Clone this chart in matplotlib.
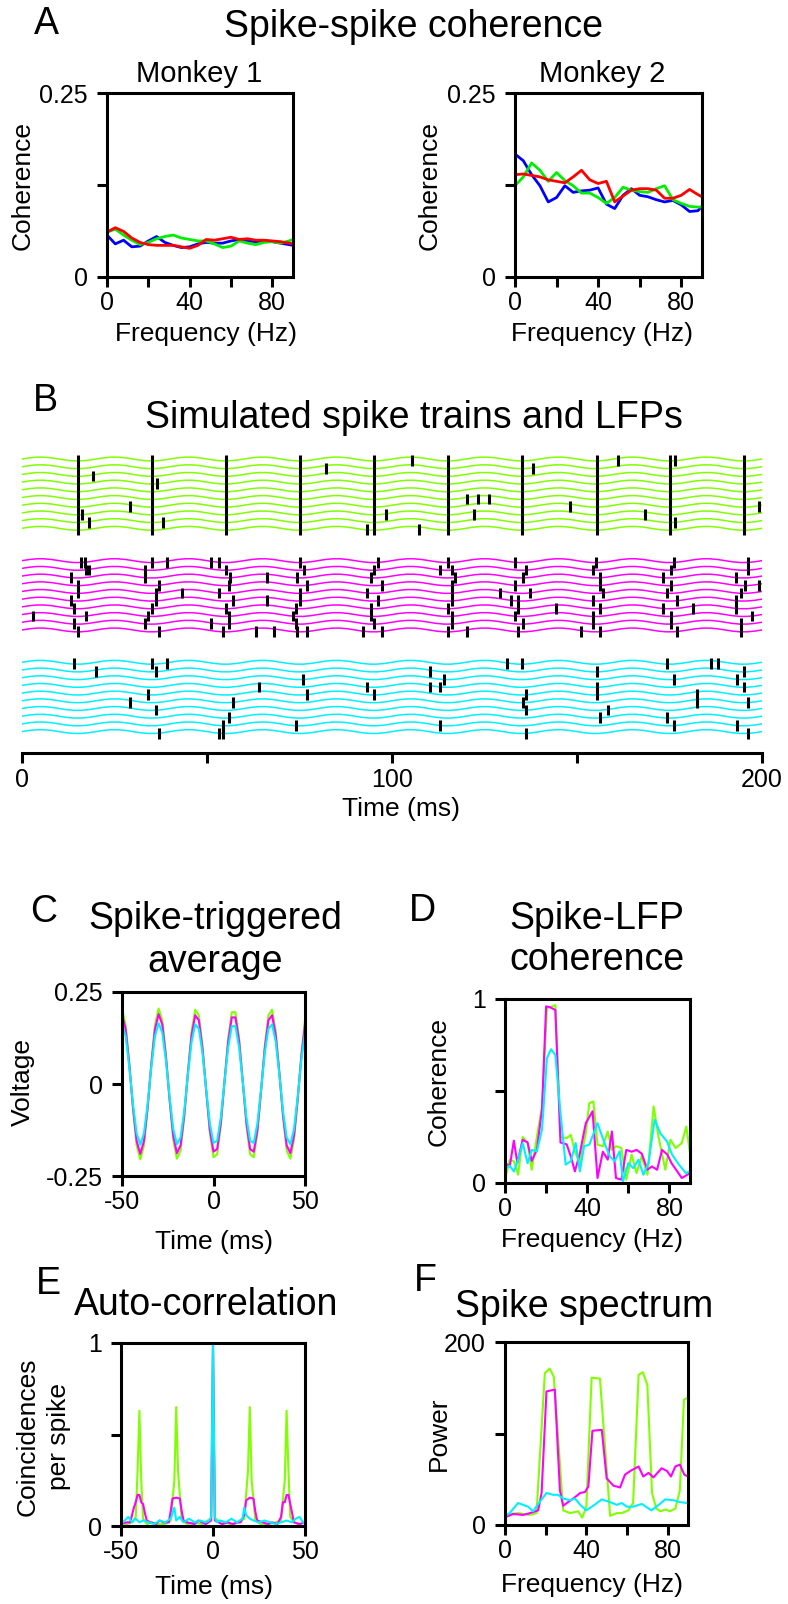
import matplotlib
matplotlib.use('Agg')
import matplotlib.pyplot as plt

plt.rcParams['font.family'] = ['Liberation Sans', 'DejaVu Sans']

W, H = 788, 1604

LIME = '#80FF00'
MAGENTA = '#FF00FF'
CYAN = '#00F0FF'

# ---------------- A: spike-spike coherence ----------------
freq_a = [0, 4, 8, 12, 16, 20, 24, 28, 32, 36, 40, 44, 48, 52, 56, 60, 64, 68, 72, 76, 80, 84, 88, 90]
m1_blue = [0.057, 0.045, 0.050, 0.041, 0.042, 0.049, 0.055, 0.047, 0.043, 0.040, 0.041, 0.045,
           0.047, 0.046, 0.046, 0.049, 0.051, 0.049, 0.048, 0.049, 0.048, 0.046, 0.044, 0.043]
m1_green = [0.061, 0.065, 0.057, 0.050, 0.044, 0.047, 0.052, 0.055, 0.057, 0.053, 0.051, 0.049,
            0.049, 0.045, 0.040, 0.042, 0.049, 0.046, 0.044, 0.047, 0.048, 0.046, 0.049, 0.051]
m1_red = [0.061, 0.067, 0.062, 0.053, 0.047, 0.044, 0.043, 0.043, 0.043, 0.041, 0.039, 0.043,
          0.051, 0.050, 0.052, 0.054, 0.051, 0.052, 0.050, 0.050, 0.049, 0.048, 0.046, 0.045]
m2_blue = [0.167, 0.158, 0.139, 0.124, 0.102, 0.108, 0.124, 0.115, 0.117, 0.118, 0.121, 0.099,
           0.093, 0.111, 0.120, 0.111, 0.109, 0.105, 0.102, 0.104, 0.098, 0.089, 0.090, 0.096]
m2_green = [0.124, 0.136, 0.155, 0.145, 0.130, 0.142, 0.131, 0.124, 0.114, 0.114, 0.108, 0.100,
            0.108, 0.122, 0.118, 0.116, 0.115, 0.120, 0.124, 0.105, 0.100, 0.096, 0.095, 0.095]
m2_red = [0.139, 0.140, 0.138, 0.136, 0.132, 0.130, 0.128, 0.136, 0.145, 0.132, 0.127, 0.130,
          0.102, 0.110, 0.118, 0.120, 0.120, 0.118, 0.107, 0.107, 0.111, 0.119, 0.112, 0.109]

# ---------------- B: simulated spike trains and LFPs ----------------
lfp_time = list(range(0, 201, 2))
lfp_trace = [0, .15, .24, .24, .15, 0, -.15, -.24, -.24, -.15,
             0, .15, .24, .24, .15, 0, -.15, -.24, -.24, -.15,
             0, .15, .24, .24, .15, 0, -.15, -.24, -.24, -.15,
             0, .15, .24, .24, .15, 0, -.15, -.24, -.24, -.15,
             0, .15, .24, .24, .15, 0, -.15, -.24, -.24, -.15,
             0, .15, .24, .24, .15, 0, -.15, -.24, -.24, -.15,
             0, .15, .24, .24, .15, 0, -.15, -.24, -.24, -.15,
             0, .15, .24, .24, .15, 0, -.15, -.24, -.24, -.15,
             0, .15, .24, .24, .15, 0, -.15, -.24, -.24, -.15,
             0, .15, .24, .24, .15, 0, -.15, -.24, -.24, -.15,
             0]
n_rows = 10

# green group: spikes in every trace at these times, plus a few extra spikes
green_sync_times = [15.1, 35.1, 55.1, 75.1, 95.1, 115.1, 135.1, 155.3, 175.1, 195.1]
green_spikes = [(16.2, 7), (19.1, 2), (18.1, 8), (29.2, 6), (36.5, 3), (38.0, 8), (82.2, 1),
                (93.2, 9), (98.3, 7), (105.3, 0), (107.4, 9), (120.4, 5), (122.2, 7), (123.3, 5),
                (126.2, 5), (138.2, 1), (148.1, 6), (161.2, 0), (168.4, 7), (176.4, 0), (176.4, 8),
                (199.2, 6)]
magenta_spikes = [
    (15.9, 0), (17.0, 0), (17.3, 1), (18.2, 1), (13.2, 2), (15.0, 3), (15.0, 4), (13.2, 5),
    (14.1, 6), (3.1, 7), (17.2, 7), (14.1, 8), (15.1, 9),
    (35.2, 0), (39.1, 0), (33.2, 1), (33.2, 2), (37.1, 3), (36.2, 4), (36.2, 5), (35.0, 6),
    (34.1, 7), (33.2, 8), (37.1, 9), (43.2, 4),
    (51.1, 0), (53.2, 0), (55.1, 1), (56.2, 2), (56.0, 3), (53.2, 4), (57.1, 5), (55.1, 6),
    (56.0, 7), (51.1, 8), (56.0, 8), (54.2, 9), (63.2, 9), (68.1, 9), (66.1, 2), (66.1, 5),
    (75.1, 0), (76.2, 1), (74.2, 2), (77.1, 3), (75.1, 4), (75.1, 5), (74.1, 6), (73.2, 7),
    (74.1, 8), (74.2, 9), (77.1, 9),
    (96.1, 0), (95.1, 1), (94.2, 2), (97.2, 3), (93.2, 4), (96.1, 5), (94.2, 6), (94.2, 7),
    (95.1, 8), (92.2, 9), (97.2, 9),
    (115.2, 0), (113.1, 1), (116.1, 1), (117.0, 2), (116.1, 3), (116.1, 4), (116.1, 5),
    (115.2, 6), (116.1, 7), (116.1, 8), (115.2, 9), (120.4, 9),
    (133.2, 0), (136.2, 1), (135.3, 2), (133.2, 3), (129.2, 4), (137.3, 4), (132.2, 5),
    (134.1, 5), (134.1, 6), (133.2, 7), (135.3, 8), (134.1, 9), (144.2, 6),
    (155.1, 0), (154.2, 1), (156.2, 2), (156.2, 3), (157.1, 4), (154.2, 5), (156.2, 6),
    (154.2, 7), (154.2, 8), (151.2, 9), (156.2, 9),
    (176.3, 0), (175.3, 1), (173.3, 2), (175.3, 3), (174.2, 4), (177.1, 5), (173.3, 6),
    (175.3, 7), (175.3, 8), (177.1, 9), (181.3, 6),
    (196.3, 0), (196.3, 1), (193.1, 2), (195.4, 3), (199.2, 3), (194.2, 4), (193.1, 5),
    (193.1, 6), (197.2, 7), (194.2, 8), (194.2, 9)]
cyan_spikes = [
    (14.1, 0), (20.0, 1), (35.0, 0), (36.1, 1), (39.1, 0), (34.1, 4), (29.2, 5), (36.1, 6),
    (37.0, 9), (57.1, 5), (56.0, 7), (54.2, 8), (53.2, 9), (54.2, 9), (64.1, 3), (76.0, 2),
    (77.1, 4), (74.1, 8), (93.2, 3), (95.1, 4), (110.3, 1), (110.3, 3), (114.1, 2), (113.1, 3),
    (113.1, 8), (131.2, 0), (135.2, 0), (136.2, 4), (135.3, 5), (136.2, 6), (136.2, 9),
    (155.3, 1), (155.3, 3), (155.3, 4), (158.3, 6), (156.2, 7), (174.2, 0), (176.2, 2),
    (182.3, 4), (182.3, 5), (174.2, 7), (176.2, 8), (186.2, 0), (188.2, 0), (195.2, 1),
    (193.3, 2), (195.2, 3), (196.3, 5), (193.3, 8), (196.3, 9)]

# ---------------- C: spike-triggered average ----------------
sta_time = list(range(-50, 51, 2))
sta_lime = [0.205, 0.160, 0.056, -0.068, -0.167, -0.205, -0.167, -0.068, 0.056, 0.160, 0.205,
            0.174, 0.080, -0.044, -0.151, -0.203, -0.181, -0.091, 0.031, 0.142, 0.202, 0.186,
            0.103, -0.019, -0.133, -0.199, -0.191, -0.113, 0.006, 0.123, 0.195, 0.195, 0.124,
            0.006, -0.113, -0.191, -0.199, -0.133, -0.019, 0.103, 0.186, 0.202, 0.143, 0.031,
            -0.091, -0.181, -0.203, -0.151, -0.044, 0.080, 0.174]
sta_magenta = [0.190, 0.148, 0.052, -0.063, -0.155, -0.190, -0.155, -0.063, 0.052, 0.148, 0.190,
               0.162, 0.074, -0.041, -0.140, -0.188, -0.167, -0.085, 0.029, 0.131, 0.187, 0.173,
               0.095, -0.017, -0.124, -0.184, -0.177, -0.105, 0.006, 0.114, 0.181, 0.181, 0.115,
               0.006, -0.105, -0.177, -0.184, -0.124, -0.017, 0.095, 0.173, 0.187, 0.132, 0.029,
               -0.085, -0.167, -0.188, -0.140, -0.041, 0.074, 0.162]
sta_cyan = [0.165, 0.129, 0.045, -0.055, -0.134, -0.165, -0.134, -0.055, 0.045, 0.129, 0.165,
            0.140, 0.064, -0.035, -0.122, -0.164, -0.145, -0.074, 0.025, 0.114, 0.162, 0.150,
            0.083, -0.015, -0.107, -0.160, -0.154, -0.091, 0.005, 0.099, 0.157, 0.157, 0.099,
            0.005, -0.091, -0.154, -0.160, -0.107, -0.015, 0.083, 0.150, 0.162, 0.115, 0.025,
            -0.074, -0.145, -0.164, -0.122, -0.035, 0.064, 0.140]

# ---------------- D: spike-LFP coherence ----------------
coh_lime_f = [0, 2.3, 4.3, 6.4, 8.6, 11, 13, 15.5, 18, 20.4, 23, 24.5, 27, 30, 32, 34, 36.4, 39.3,
              41, 43, 45, 47.6, 50, 52, 54, 56.6, 59, 61.6, 64, 66.5, 69.3, 72.3, 74.7, 78, 80.5,
              83, 86, 88.2, 90]
coh_lime = [.018, .127, .118, .045, .25, .217, .072, .25, .416, .95, .96, .967, .25, .244, .262,
            .172, .108, .27, .434, .443, .208, .2, .28, .18, .2, .19, .018, .154, .054, .145,
            .045, .416, .25, .072, .235, .19, .217, .307, .163]
coh_magenta_f = [0, 2.3, 4.3, 6, 8.6, 11, 13, 15.5, 18, 20, 22, 24.5, 27, 30, 32, 34, 36.4, 39.3,
                 42.6, 45, 47.6, 50, 52, 54, 56.6, 59, 61.6, 64, 66.5, 69.3, 71.4, 74, 76.4, 79,
                 81, 83.8, 86, 89.5]
coh_magenta = [.11, .09, .23, .11, .235, .22, .12, .18, .40, .96, .955, .94, .22, .21, .145, .063,
               .16, .325, .39, .027, .17, .127, .28, .027, .018, .18, .17, .18, .16, .072, .09,
               .072, .18, .154, .108, .063, .027, .05]
coh_cyan_f = [0, 2.3, 4.3, 6.4, 8.6, 11, 13, 15.5, 18, 20.4, 22.4, 24.5, 27, 29.5, 32, 34.4, 36.4,
              38.5, 41, 45, 48.4, 51, 53.3, 55.8, 57.4, 60, 62.4, 64.9, 67.3, 69.8, 72.8, 75.6,
              78.8, 81.3, 84.6, 88, 90]
coh_cyan = [.081, .094, .063, .127, .217, .108, .18, .172, .29, .678, .727, .696, .38, .1, .118,
            .217, .063, .2, .208, .325, .217, .145, .118, .172, .009, .108, .081, .127, .045,
            .108, .344, .27, .226, .154, .1, .054, .063]

# ---------------- E: auto-correlation ----------------
ac_lime_t = [-50, -47, -44, -42, -41, -40, -39, -38, -36, -33, -30, -26, -23, -21, -20, -19, -17,
             -14, -10, -6, -3, -1, 0, 1, 3, 6, 10, 14, 17, 19, 20, 21, 23, 26, 30, 34, 37, 39, 40,
             41, 42, 44, 47, 50]
ac_lime = [.02, .01, .02, .05, .30, .63, .25, .04, .01, .02, .01, .01, .03, .25, .65, .30, .03,
           .01, .02, .01, .03, .04, 1.0, .04, .03, .02, .01, .02, .04, .3, .65, .25, .03, .01,
           .01, .02, .03, .25, .63, .30, .05, .02, .01, .02]
ac_magenta_t = [-50, -47, -45, -44, -43, -42, -41, -40, -39, -38, -37, -36, -34, -31, -29, -27,
                -24, -23, -22, -20, -18, -17, -16, -14, -10, -8, -6, -4, -1, 0, 1, 5, 8, 11, 13,
                15, 17, 18, 20, 22, 23, 24, 27, 30, 32, 35, 37, 38, 39, 40, 41, 42, 43, 44, 47, 50]
ac_magenta = [.01, .02, .02, .06, .10, .13, .17, .17, .13, .12, .07, .03, .02, .01, .03, .02, .02,
              .08, .15, .155, .15, .08, .03, .02, .01, .03, .02, .01, .03, 1.0, .03, .01, .02,
              .01, .02, .02, .06, .14, .155, .15, .08, .03, .02, .01, .02, .01, .05, .13, .13,
              .17, .17, .12, .07, .02, .01, .02]
ac_cyan_t = [-50, -48, -46, -44, -42, -40, -38, -35, -32, -29, -26, -23, -21, -20, -18, -16, -13,
             -10, -7, -4, -2, -1, 0, 1, 2, 4, 7, 10, 13, 16, 17, 18, 20, 22, 25, 28, 31, 34, 37,
             40, 43, 45, 47, 49, 50]
ac_cyan = [.01, .03, .05, .02, .04, .02, .03, .02, .01, .03, .02, .04, .10, .03, .05, .02, .04,
           .02, .03, .02, .03, .05, 1.0, .05, .02, .03, .02, .04, .02, .04, .10, .06, .04, .03,
           .02, .03, .02, .01, .02, .03, .02, .04, .05, .02, .01]

# ---------------- F: spike spectrum ----------------
pow_lime_f = [0, 2.3, 6.4, 12, 15.5, 19.6, 22, 24, 28.6, 32, 36, 38, 40, 42.6, 46.7, 51.7, 55,
              57.4, 60.7, 63, 65.7, 67.8, 70, 72.3, 74.4, 76.4, 79, 81, 83.8, 86, 88, 90]
pow_lime = [8.4, 12, 13, 11, 13, 166, 171, 162, 16, 13, 15, 8, 20, 161, 160, 10, 13, 13, 16, 24,
            164, 167, 153, 35, 18, 15, 17, 15, 18, 38, 137, 139]
pow_magenta_f = [0, 4, 9, 13, 16.3, 18, 20.4, 24.5, 27, 28.6, 31, 33.6, 37, 39.3, 41, 43, 47.6,
                 50, 53.3, 56.6, 59, 61.6, 65.7, 68, 70.6, 73, 77, 79.7, 81.6, 83.8, 86, 88.2, 90]
pow_magenta = [8.4, 12, 11, 13.5, 16, 35, 146, 148, 38, 21, 25, 29, 35, 36, 42, 103, 104, 51, 43,
               41, 55, 59, 64, 53, 57, 52, 62, 59, 53, 64, 66, 55, 53]
pow_cyan_f = [0, 2.3, 6.4, 11.4, 13.8, 17, 20.4, 23.7, 26, 28.6, 32, 34.4, 37, 40, 44, 47.6, 51.7,
              55, 57.4, 60, 63, 67.3, 72, 75.6, 78.8, 83, 86, 90]
pow_cyan = [10, 13, 24, 20, 15, 25, 35, 33, 33, 29, 27, 29, 22, 16, 22, 28, 25, 22, 24, 20, 20,
            23, 16, 22, 28, 27, 25, 24]


fig = plt.figure(figsize=(W / 100, H / 100), dpi=100)


def axes_px(left, top, right, bottom):
    return fig.add_axes([left / W, 1 - bottom / H, (right - left) / W, (bottom - top) / H])


def put(x, y, s, size, **kw):
    fig.text(x / W, 1 - y / H, s, fontsize=size, ha='center', va='center', **kw)


def box(ax):
    for sp in ax.spines.values():
        sp.set_linewidth(2.2)
    ax.tick_params(direction='out', length=7, width=2.2, labelsize=18)
    ax.tick_params(axis='y', pad=7)
    ax.tick_params(axis='x', pad=3)


def freq_ticks(ax):
    ax.set_xlim(0, 90)
    ax.set_xticks([0, 20, 40, 60, 80])
    ax.set_xticklabels(['0', '', '40', '', '80'])


# ---- A ----
for (l, r), blue, green, red in [((107, 293), m1_blue, m1_green, m1_red),
                                 ((515, 702), m2_blue, m2_green, m2_red)]:
    ax = axes_px(l, 93, r, 277)
    ax.plot(freq_a, blue, color='#0000FF', lw=2.0)
    ax.plot(freq_a, green, color='#00EE00', lw=2.0)
    ax.plot(freq_a, red, color='#FF0000', lw=2.0)
    ax.set_ylim(0, 0.25)
    ax.set_yticks([0, 0.125, 0.25])
    ax.set_yticklabels(['0', '', '0.25'])
    freq_ticks(ax)
    box(ax)

put(46, 24, 'A', 27)
put(414, 27, 'Spike-spike coherence', 27)
put(199, 74, 'Monkey 1', 21)
put(602, 74, 'Monkey 2', 21)
put(23, 186, 'Coherence', 19, rotation=90)
put(430, 186, 'Coherence', 19, rotation=90)
put(206, 334, 'Frequency (Hz)', 19)
put(602, 334, 'Frequency (Hz)', 19)

# ---- B ----
axb = axes_px(22, 445, 762, 753)
row_gap = 13.2
groups = [(LIME, green_spikes), (MAGENTA, magenta_spikes), (CYAN, cyan_spikes)]
for g, (col, spikes) in enumerate(groups):
    for r in range(n_rows):
        base = -(g * row_gap + r)
        axb.plot(lfp_time, [base + v for v in lfp_trace], color=col, lw=1.1, zorder=1)
    ts = [s[0] for s in spikes]
    ys = [-(g * row_gap + s[1]) for s in spikes]
    axb.vlines(ts, [y - 0.9 for y in ys], [y + 0.5 for y in ys], color='black', lw=2.2, zorder=3)
axb.vlines(green_sync_times, -(n_rows - 1) - 0.9, 0.5, color='black', lw=2.2, zorder=3)
axb.set_xlim(0, 200)
axb.set_ylim(-38.18, 1.82)
for s in ['top', 'right', 'left']:
    axb.spines[s].set_visible(False)
axb.spines['bottom'].set_linewidth(2.2)
axb.set_yticks([])
axb.set_xticks([0, 50, 100, 150, 200])
axb.set_xticklabels(['0', '', '100', '', '200'])
axb.tick_params(direction='out', length=7, width=2.2, labelsize=18, pad=4)

put(45, 401, 'B', 27)
put(414, 418, 'Simulated spike trains and LFPs', 27)
put(401, 809, 'Time (ms)', 19)

# ---- C ----
axc = axes_px(122, 992, 305, 1176)
axc.plot(sta_time, sta_lime, color=LIME, lw=1.5)
axc.plot(sta_time, sta_magenta, color=MAGENTA, lw=1.5)
axc.plot(sta_time, sta_cyan, color=CYAN, lw=1.5)
axc.set_xlim(-50, 50)
axc.set_ylim(-0.25, 0.25)
axc.set_xticks([-50, 0, 50])
axc.set_yticks([-0.25, 0, 0.25])
axc.set_yticklabels(['-0.25', '0', '0.25'])
axc.set_xticklabels(['-50', '0', '50'])
box(axc)
put(44, 912, 'C', 27)
put(215, 919, 'Spike-triggered', 27)
put(215, 962, 'average', 27)
put(23, 1082, 'Voltage', 19, rotation=90)
put(214, 1242, 'Time (ms)', 19)

# ---- D ----
axd = axes_px(505, 999, 690, 1183)
axd.plot(coh_lime_f, coh_lime, color=LIME, lw=1.5)
axd.plot(coh_magenta_f, coh_magenta, color=MAGENTA, lw=1.5)
axd.plot(coh_cyan_f, coh_cyan, color=CYAN, lw=1.5)
axd.set_ylim(0, 1)
axd.set_yticks([0, 0.5, 1])
axd.set_yticklabels(['0', '', '1'])
freq_ticks(axd)
box(axd)
put(422, 911, 'D', 27)
put(597, 919, 'Spike-LFP', 27)
put(597, 960, 'coherence', 27)
put(439, 1082, 'Coherence', 19, rotation=90)
put(592, 1240, 'Frequency (Hz)', 19)

# ---- E ----
axe = axes_px(121, 1343, 305, 1526)
axe.plot(ac_lime_t, ac_lime, color=LIME, lw=1.5)
axe.plot(ac_magenta_t, ac_magenta, color=MAGENTA, lw=1.5)
axe.plot(ac_cyan_t, ac_cyan, color=CYAN, lw=1.5)
axe.set_xlim(-50, 50)
axe.set_ylim(0, 1)
axe.set_xticks([-50, 0, 50])
axe.set_xticklabels(['-50', '0', '50'])
axe.set_yticks([0, 0.5, 1])
axe.set_yticklabels(['0', '', '1'])
box(axe)
put(48, 1284, 'E', 27)
put(206, 1305, 'Auto-correlation', 27)
put(43, 1437, 'Coincidences\nper spike', 19, rotation=90, linespacing=1.4)
put(214, 1587, 'Time (ms)', 19)

# ---- F ----
axf = axes_px(505, 1342, 688, 1525)
axf.plot(pow_lime_f, pow_lime, color=LIME, lw=1.5)
axf.plot(pow_magenta_f, pow_magenta, color=MAGENTA, lw=1.5)
axf.plot(pow_cyan_f, pow_cyan, color=CYAN, lw=1.5)
axf.set_ylim(0, 200)
axf.set_yticks([0, 100, 200])
axf.set_yticklabels(['0', '', '200'])
freq_ticks(axf)
box(axf)
put(425, 1281, 'F', 27)
put(584, 1307, 'Spike spectrum', 27)
put(439, 1434, 'Power', 19, rotation=90)
put(592, 1585, 'Frequency (Hz)', 19)

fig.savefig('out.png', dpi=100)
